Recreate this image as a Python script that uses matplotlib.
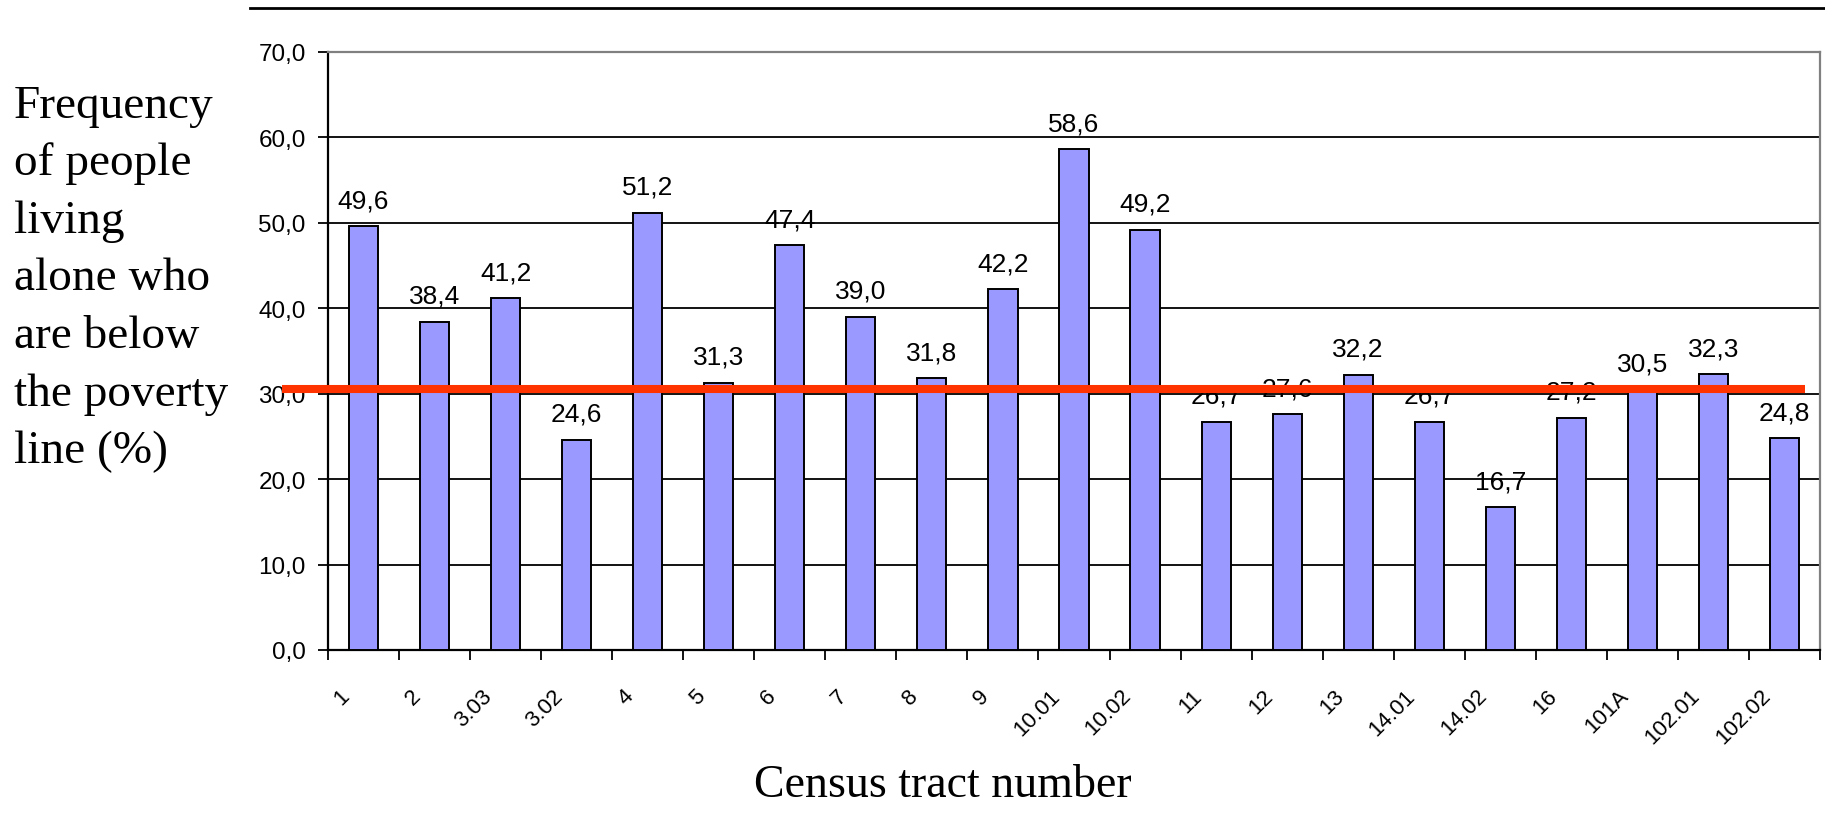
import matplotlib
matplotlib.use("Agg")
import matplotlib.pyplot as plt
import matplotlib.transforms as mtransforms
from matplotlib.lines import Line2D

categories = ["1", "2", "3.03", "3.02", "4", "5", "6", "7", "8", "9", "10.01",
              "10.02", "11", "12", "13", "14.01", "14.02", "16", "101A",
              "102.01", "102.02"]
values = [49.6, 38.4, 41.2, 24.6, 51.2, 31.3, 47.4, 39.0, 31.8, 42.2, 58.6,
          49.2, 26.7, 27.6, 32.2, 26.7, 16.7, 27.2, 30.5, 32.3, 24.8]
reference_line = 30.6
y_ticks = [0, 10, 20, 30, 40, 50, 60, 70]
ylabel_lines = ["Frequency", "of people", "living", "alone who", "are below",
                "the poverty", "line (%)"]
xlabel = "Census tract number"

W, H = 1825, 828
DPI = 100
fig = plt.figure(figsize=(W / DPI, H / DPI), dpi=DPI)
fig.patch.set_facecolor("white")

ax_l, ax_r, ax_t, ax_b = 328, 1820, 53, 651
ax = fig.add_axes([ax_l / W, (H - ax_b) / H, (ax_r - ax_l) / W, (ax_b - ax_t) / H])

serif = ["Liberation Serif", "DejaVu Serif"]
sans = ["Liberation Sans", "DejaVu Sans"]

x = list(range(len(categories)))
ax.bar(x, values, width=0.41, color="#9999FF", edgecolor="black",
       linewidth=1.4, zorder=3)

ax.set_xlim(-0.5, len(categories) - 0.5)
ax.set_ylim(0, 70)

ax.set_axisbelow(True)
ax.set_yticks(y_ticks)
ax.set_yticklabels([f"{t:.1f}".replace(".", ",") for t in y_ticks],
                   fontfamily=sans, fontsize=17.5)
ax.yaxis.grid(True, color="black", linewidth=1.3, zorder=0)
ax.tick_params(axis="y", direction="out", length=7, width=1.3, pad=9,
               color="black")

ax.set_xticks([i - 0.5 for i in range(len(categories) + 1)])
ax.set_xticklabels([])
ax.tick_params(axis="x", direction="out", length=7, width=1.3, color="black")

for s in ["left", "bottom"]:
    ax.spines[s].set_color("black")
    ax.spines[s].set_linewidth(1.6)
for s in ["top", "right"]:
    ax.spines[s].set_color("#808080")
    ax.spines[s].set_linewidth(1.6)

blend = mtransforms.blended_transform_factory(ax.transData, ax.transAxes)
for i, lab in enumerate(categories):
    tr = mtransforms.offset_copy(blend, fig=fig, x=-13, y=-46, units="dots")
    ax.text(i, 0, lab, transform=tr, rotation=45, rotation_mode="anchor",
            ha="right", va="baseline", fontsize=16, fontfamily=sans,
            clip_on=False)

for i, v in enumerate(values):
    ax.annotate(f"{v:.1f}".replace(".", ","), xy=(i, v), xytext=(0, 19),
                textcoords="offset pixels", ha="center", va="baseline",
                fontsize=19, fontfamily=sans, zorder=4)

ax.axhline(reference_line, xmin=(282 - ax_l) / (ax_r - ax_l),
           xmax=(1805 - ax_l) / (ax_r - ax_l), color="#FF3300",
           linewidth=5.8, clip_on=False, zorder=6, solid_capstyle="butt")

fig.add_artist(Line2D([250 / W, 1.0], [1 - 8.5 / H, 1 - 8.5 / H],
                      color="black", linewidth=2.0))

for k, line in enumerate(ylabel_lines):
    yb = 118 + k * 57.5
    fig.text(14 / W, 1 - yb / H, line, ha="left", va="baseline",
             fontsize=34, fontfamily=serif)

fig.text(943 / W, 1 - 797 / H, xlabel, ha="center", va="baseline",
         fontsize=33, fontfamily=serif)

fig.savefig("out.png", dpi=DPI, facecolor="white")
